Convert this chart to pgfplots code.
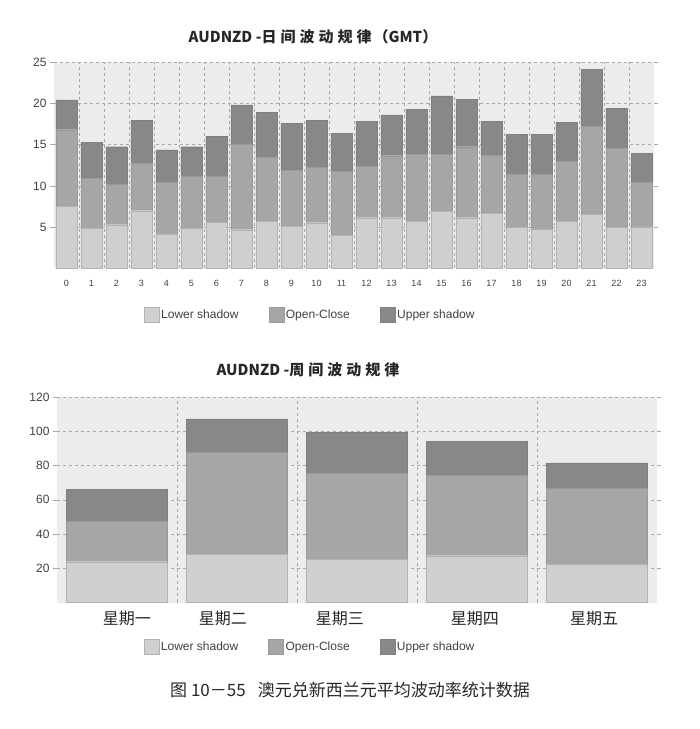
\documentclass[border=0pt]{standalone}
\usepackage{pgfplots}
\pgfplotsset{compat=1.18}
\usepackage{pgfplotstable}
\usepackage{fontspec}
\setmainfont{Liberation Sans}
\newfontfamily\cjk{Noto Sans CJK SC}

\definecolor{lowc}{HTML}{CFCFCF}
\definecolor{occ}{HTML}{A6A6A6}
\definecolor{upc}{HTML}{888888}
\definecolor{bgc}{HTML}{ECECEC}
\definecolor{gridc}{HTML}{A8A8A8}

% hourly averages (GMT hour, lower shadow, open-close, upper shadow)
\pgfplotstableread{
h  lower oc    upper
0  7.5   9.3   3.6
1  4.9   6.0   4.4
2  5.3   4.9   4.55
3  7.0   5.8   5.1
4  4.2   6.2   3.95
5  4.9   6.3   3.55
6  5.6   5.6   4.8
7  4.7   10.4  4.7
8  5.75  7.75  5.4
9  5.1   6.8   5.7
10 5.55  6.7   5.65
11 4.05  7.75  4.6
12 6.15  6.25  5.45
13 6.15  7.5   4.95
14 5.75  8.05  5.5
15 6.9   6.9   7.1
16 6.15  8.6   5.75
17 6.7   7.05  4.05
18 5.0   6.4   4.85
19 4.8   6.65  4.8
20 5.75  7.25  4.7
21 6.55  10.65 6.9
22 4.95  9.65  4.8
23 5.05  5.4   3.5
}\hourly

% weekday averages
\pgfplotstableread{
d lower oc   upper
0 23.8  23.7 18.7
1 28.3  59.3 19.6
2 25.4  49.9 23.9
3 27.3  47.0 19.9
4 22.4  44.5 14.6
}\weekly

\pgfplotsset{
  shadowbars/.style={
    scale only axis, anchor=south west,
    ybar stacked, ymin=0, xmin=-0.5,
    axis line style={draw=none},
    axis background/.style={fill=bgc},
    ymajorgrids, xminorgrids,
    major grid style={gridc, dash pattern=on 3pt off 3pt, line width=0.4pt},
    minor grid style={gridc, dash pattern=on 3pt off 3pt, line width=0.4pt},
    minor tick length=0pt,
    major tick length=4pt, tick align=outside,
    ytick style={draw=gridc},
    xtick style={draw=none},
    /pgf/number format/assume math mode=true,
    yticklabel style={font=\fontsize{12}{12}\selectfont, text=black!75},
    legend columns=3,
    legend cell align=left,
    legend style={draw=none, fill=none, inner sep=0pt,
      font=\fontsize{12}{12}\selectfont, text=black!75,
      /tikz/every even column/.append style={column sep=28pt}},
    legend image code/.code={\fill[##1] (0pt,-7.5pt) rectangle (15pt,7.5pt);},
  },
  lowbar/.style={fill=lowc, draw=black!30, line width=0.3pt},
  ocbar/.style={fill=occ, draw=black!40, line width=0.3pt},
  upbar/.style={fill=upc, draw=black!50, line width=0.3pt},
}

\begin{document}
\begin{tikzpicture}
\useasboundingbox (0pt,0pt) rectangle (700pt,729pt);

\node[font=\cjk\bfseries\fontsize{15}{15}\selectfont, text=black!85] at (313pt,692pt)
  {AUDNZD -日\hspace{4pt}间\hspace{4pt}波\hspace{4pt}动\hspace{4pt}规\hspace{4pt}律\hspace{2pt}（GMT）};

\begin{axis}[shadowbars,
  at={(54pt,460.5pt)}, width=600pt, height=206.5pt,
  xmax=23.5, ymax=25, bar width=0.86,
  xtick={0,...,23}, minor xtick={0.5,1.5,...,22.5},
  ytick={5,10,...,25},
  xticklabel style={font=\fontsize{9}{9}\selectfont, text=black!75, yshift=-4pt},
  legend style={at={(0.427,-0.225)}, anchor=center}]
\addplot[lowbar] table[x=h, y=lower] {\hourly};
\addlegendentry{Lower shadow}
\addplot[ocbar] table[x=h, y=oc] {\hourly};
\addlegendentry{Open-Close}
\addplot[upbar] table[x=h, y=upper] {\hourly};
\addlegendentry{Upper shadow}
\end{axis}

\node[font=\cjk\bfseries\fontsize{15}{15}\selectfont, text=black!85] at (308pt,359pt)
  {AUDNZD -周\hspace{4pt}间\hspace{4pt}波\hspace{4pt}动\hspace{4pt}规\hspace{4pt}律};

\begin{axis}[shadowbars,
  at={(57pt,126.5pt)}, width=600pt, height=205.5pt,
  xmax=4.5, ymax=120, bar width=0.84,
  xtick={0.083,0.883,1.858,2.983,3.975},
  xticklabels={星期一,星期二,星期三,星期四,星期五},
  minor xtick={0.5,1.5,2.5,3.5},
  ytick={20,40,...,120},
  xticklabel style={font=\cjk\fontsize{16}{16}\selectfont, text=black!85, yshift=-1pt},
  legend style={at={(0.4217,-0.2165)}, anchor=center}]
\addplot[lowbar] table[x=d, y=lower] {\weekly};
\addlegendentry{Lower shadow}
\addplot[ocbar] table[x=d, y=oc] {\weekly};
\addlegendentry{Open-Close}
\addplot[upbar] table[x=d, y=upper] {\weekly};
\addlegendentry{Upper shadow}
\end{axis}

\node[font=\cjk\fontsize{17}{17}\selectfont, text=black!85] at (350pt,39pt)
  {图 10－55\hspace{12pt}澳元兑新西兰元平均波动率统计数据};
\end{tikzpicture}
\end{document}
